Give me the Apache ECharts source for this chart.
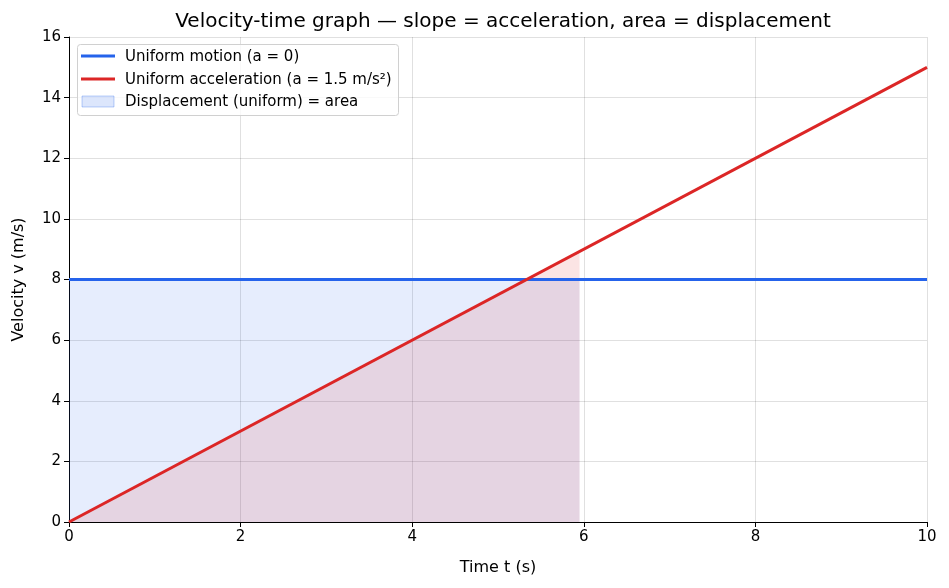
<!DOCTYPE html>
<html>
<head>
<meta charset="utf-8">
<script src="https://cdn.jsdelivr.net/npm/echarts@6/dist/echarts.min.js"></script>
<style>html,body{margin:0;padding:0;background:#fff}#c{width:949px;height:588px}</style>
</head>
<body>
<div id="c"></div>
<script>
// ---- data ----
const titleText = 'Velocity-time graph \u2014 slope = acceleration, area = displacement';
const xTicks = [0, 2, 4, 6, 8, 10];
const yTicks = [0, 2, 4, 6, 8, 10, 12, 14, 16];
const uniformT = [0, 10];
const uniformV = [8, 8];
const accelT = [0, 10];
const accelV = [0, 15];
const fillUniformT = [0, 5.95];
const fillUniformV = [8, 8];
const fillAccelT = [0, 5.95];
const fillAccelV = [0, 8.925];
const names = ['Uniform motion (a = 0)', 'Uniform acceleration (a = 1.5 m/s\u00b2)', 'Displacement (uniform) = area'];

const BLUE = '#2563eb', RED = '#dc2626';
const FONT = 'DejaVu Sans';
const zip = (a, b) => a.map((v, i) => [v, b[i]]);

const chart = echarts.init(document.getElementById('c'), null, {renderer: 'canvas'});
const axisCommon = {
  axisLine: {show: true, onZero: false, lineStyle: {color: '#000', width: 1}},
  axisTick: {show: true, inside: false, length: 5, lineStyle: {color: '#000'}},
  axisLabel: {color: '#000', fontFamily: FONT, fontSize: 15},
  splitLine: {show: true, lineStyle: {color: 'rgba(0,0,0,0.12)', width: 1}},
  nameTextStyle: {color: '#000', fontFamily: FONT, fontSize: 16}
};
chart.setOption({
  animation: false,
  backgroundColor: '#fff',
  title: {
    text: titleText, left: 498, top: 7, textAlign: 'center',
    textStyle: {fontFamily: FONT, fontSize: 20, fontWeight: 'normal', color: '#000'}
  },
  grid: {left: 69, right: 22, top: 37, bottom: 66, containLabel: false},
  xAxis: Object.assign({}, axisCommon, {
    type: 'value', min: xTicks[0], max: xTicks[xTicks.length - 1], interval: 2,
    name: 'Time t (s)', nameLocation: 'middle', nameGap: 38,
    axisLabel: Object.assign({}, axisCommon.axisLabel, {margin: 8})
  }),
  yAxis: Object.assign({}, axisCommon, {
    type: 'value', min: yTicks[0], max: yTicks[yTicks.length - 1], interval: 2,
    name: 'Velocity v (m/s)', nameLocation: 'middle', nameGap: 42, nameRotate: 90,
    axisLabel: Object.assign({}, axisCommon.axisLabel, {margin: 8})
  }),
  series: [
    {type: 'line', name: names[2], data: zip(fillUniformT, fillUniformV), showSymbol: false,
     lineStyle: {width: 0, opacity: 0}, areaStyle: {color: 'rgba(37,99,235,0.16)', origin: 'start'}, z: 1, silent: true},
    {type: 'line', name: 'accelFill', data: zip(fillAccelT, fillAccelV), showSymbol: false,
     lineStyle: {width: 0, opacity: 0}, areaStyle: {color: 'rgba(220,38,38,0.18)', origin: 'start'}, z: 1, silent: true},
    {type: 'line', name: names[0], data: zip(uniformT, uniformV), showSymbol: false,
     lineStyle: {color: BLUE, width: 3}, itemStyle: {color: BLUE}, z: 3},
    {type: 'line', name: names[1], data: zip(accelT, accelV), showSymbol: false,
     lineStyle: {color: RED, width: 3}, itemStyle: {color: RED}, z: 4}
  ],
  graphic: [
    {type: 'rect', left: 77, top: 44, shape: {width: 321, height: 71, r: 3},
     style: {fill: 'rgba(255,255,255,0.8)', stroke: '#d0d0d0', lineWidth: 1}, z: 10},
    {type: 'line', shape: {x1: 81, y1: 56, x2: 115, y2: 56}, style: {stroke: BLUE, lineWidth: 3}, z: 11},
    {type: 'line', shape: {x1: 81, y1: 79, x2: 115, y2: 79}, style: {stroke: RED, lineWidth: 3}, z: 11},
    {type: 'rect', shape: {x: 82, y: 96, width: 32, height: 11},
     style: {fill: 'rgba(37,99,235,0.16)', stroke: 'rgba(37,99,235,0.3)', lineWidth: 1}, z: 11},
    {type: 'text', x: 125, y: 57, style: {text: names[0], fontFamily: FONT, fontSize: 15, fill: '#000', verticalAlign: 'middle'}, z: 11},
    {type: 'text', x: 125, y: 80, style: {text: names[1], fontFamily: FONT, fontSize: 15, fill: '#000', verticalAlign: 'middle'}, z: 11},
    {type: 'text', x: 125, y: 102, style: {text: names[2], fontFamily: FONT, fontSize: 15, fill: '#000', verticalAlign: 'middle'}, z: 11}
  ]
});
</script>
</body>
</html>
